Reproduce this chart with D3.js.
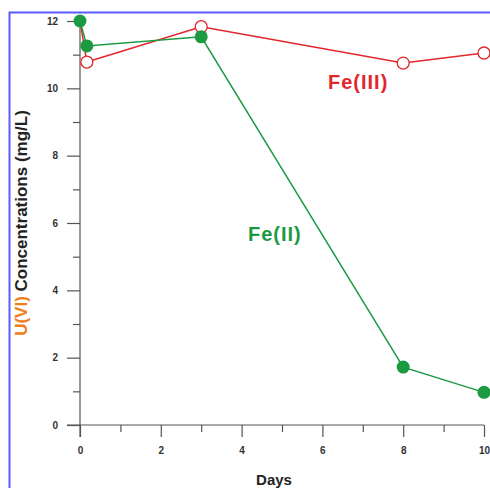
<!DOCTYPE html>
<html>
<head>
<meta charset="utf-8">
<script src="https://cdn.jsdelivr.net/npm/d3@7"></script>
<style>
  body { margin: 0; background: #fff; }
  svg { display: block; }
</style>
</head>
<body>
<div id="chart"></div>
<script>
// data
const days = [0, 0.17, 3, 8, 10];
const fe2 = [12, 11.26, 11.53, 1.72, 0.97];
const fe3 = [12, 10.78, 11.83, 10.75, 11.05];
const xTicks = [0, 2, 4, 6, 8, 10];
const yTicks = [0, 2, 4, 6, 8, 10, 12];

const width = 490, height = 488;

const svg = d3.select('#chart').append('svg')
  .attr('width', width)
  .attr('height', height);

// blue frame (left + top)
svg.append('path')
  .attr('d', 'M9.5,488 L9.5,12.5 L490,12.5')
  .attr('fill', 'none')
  .attr('stroke', '#5b5bff')
  .attr('stroke-width', 2);

const x = d3.scaleLinear().domain([0, 10]).range([80, 484]);
const y = d3.scaleLinear().domain([0, 12]).range([425, 21]);

const axisColor = '#555';

// y axis
const yAxis = svg.append('g')
  .attr('transform', 'translate(80,0)')
  .call(d3.axisLeft(y).tickValues(yTicks).tickSize(13).tickPadding(9));
svg.append('g')
  .attr('transform', 'translate(80,0)')
  .call(d3.axisLeft(y).tickValues(d3.range(1, 12, 2)).tickSize(7).tickFormat(''))
  .call(g => g.select('.domain').remove());

// x axis
const xAxis = svg.append('g')
  .attr('transform', 'translate(0,425)')
  .call(d3.axisBottom(x).tickValues(xTicks).tickSize(12).tickPadding(10));
svg.append('g')
  .attr('transform', 'translate(0,425)')
  .call(d3.axisBottom(x).tickValues(d3.range(1, 10, 2)).tickSize(7).tickFormat(''))
  .call(g => g.select('.domain').remove());

// axis lines extend past the origin
yAxis.select('.domain').attr('d', 'M0,21 V437');
xAxis.select('.domain').attr('d', 'M67,0 H484');

svg.selectAll('.domain, .tick line')
  .attr('stroke', axisColor)
  .attr('stroke-width', 1.2);
svg.selectAll('.tick text')
  .attr('font-family', 'Arial, "Liberation Sans", sans-serif')
  .attr('font-weight', 'bold')
  .attr('font-size', 10)
  .attr('fill', '#333');

// series
const line = d3.line().x(d => x(d[0])).y(d => y(d[1]));
const red = '#e3262b', green = '#1c9a42';

const fe3Pts = days.map((d, i) => [d, fe3[i]]);
const fe2Pts = days.map((d, i) => [d, fe2[i]]);

svg.append('path')
  .datum(fe3Pts)
  .attr('fill', 'none')
  .attr('stroke', red)
  .attr('stroke-width', 1.5)
  .attr('d', line);

svg.append('g').selectAll('circle')
  .data(fe3Pts.slice(1))
  .join('circle')
  .attr('cx', d => x(d[0]))
  .attr('cy', d => y(d[1]))
  .attr('r', 6)
  .attr('fill', '#fff')
  .attr('stroke', red)
  .attr('stroke-width', 1.3);

svg.append('path')
  .datum(fe2Pts)
  .attr('fill', 'none')
  .attr('stroke', green)
  .attr('stroke-width', 1.5)
  .attr('d', line);

svg.append('g').selectAll('circle')
  .data(fe2Pts)
  .join('circle')
  .attr('cx', d => x(d[0]))
  .attr('cy', d => y(d[1]))
  .attr('r', 6.5)
  .attr('fill', green);

// series labels
svg.append('text')
  .attr('x', 328).attr('y', 89)
  .attr('font-family', 'Arial, "Liberation Sans", sans-serif')
  .attr('font-weight', 'bold')
  .attr('font-size', 20)
  .attr('letter-spacing', 1)
  .attr('fill', red)
  .text('Fe(III)');

svg.append('text')
  .attr('x', 248).attr('y', 241)
  .attr('font-family', 'Arial, "Liberation Sans", sans-serif')
  .attr('font-weight', 'bold')
  .attr('font-size', 20)
  .attr('letter-spacing', 1)
  .attr('fill', green)
  .text('Fe(II)');

// axis titles
svg.append('text')
  .attr('x', 274).attr('y', 485)
  .attr('text-anchor', 'middle')
  .attr('font-family', 'Arial, "Liberation Sans", sans-serif')
  .attr('font-weight', 'bold')
  .attr('font-size', 15)
  .attr('fill', '#222')
  .text('Days');

const yt = svg.append('text')
  .attr('transform', 'translate(27,223) rotate(-90)')
  .attr('text-anchor', 'middle')
  .attr('font-family', 'Arial, "Liberation Sans", sans-serif')
  .attr('font-weight', 'bold')
  .attr('font-size', 17)
  .attr('fill', '#222');
yt.append('tspan').attr('fill', '#ef7d1a').text('U(VI)');
yt.append('tspan').text(' Concentrations (mg/L)');
</script>
</body>
</html>
